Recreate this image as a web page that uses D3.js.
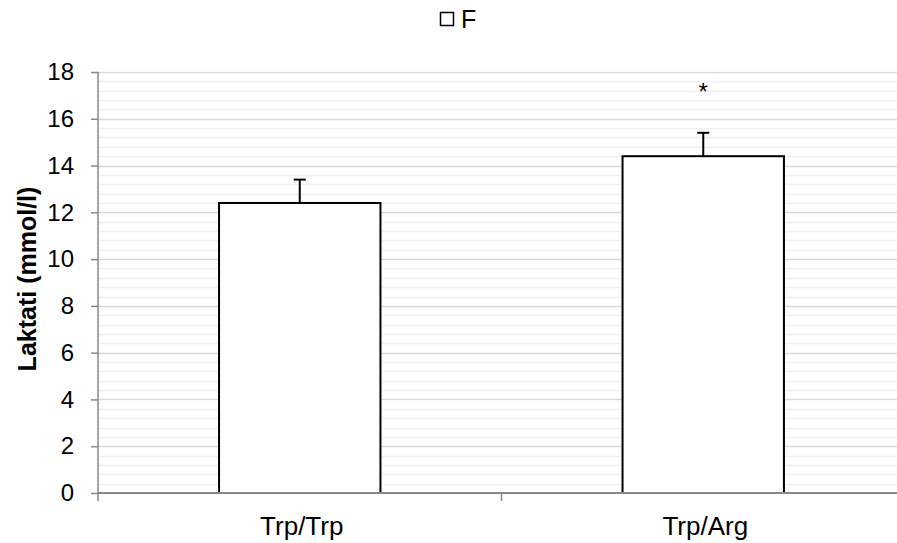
<!DOCTYPE html>
<html><head><meta charset="utf-8">
<script src="https://cdn.jsdelivr.net/npm/d3@7"></script>
<style>body{margin:0;background:#fff}svg{display:block;font-family:"Liberation Sans",Arial,sans-serif}</style>
</head><body><div id="chart"></div>
<script>
const categories = ["Trp/Trp", "Trp/Arg"];
const values = [12.4, 14.4];
const errors = [1.0, 1.0];
const significance = ["", "*"];
const seriesName = "F";
const yTicks = [0, 2, 4, 6, 8, 10, 12, 14, 16, 18];
const yLabel = "Laktati (mmol/l)";

const W = 897, H = 543;
const FS = 24;
const svg = d3.select("#chart").append("svg").attr("width", W).attr("height", H);
const y = d3.scaleLinear().domain([0, 18]).range([493, 72]);
const x = d3.scaleBand().domain(categories).range([98, 905]).paddingInner(0).paddingOuter(0);
const xr = W;

// minor gridlines
const minor = d3.range(0, 18.001, 0.4).filter(v => Math.abs(v/2 - Math.round(v/2)) > 1e-6);
svg.append("g").selectAll("line").data(minor).join("line")
  .attr("x1", 98).attr("x2", xr).attr("y1", d => Math.round(y(d)) + 0.5).attr("y2", d => Math.round(y(d)) + 0.5)
  .attr("stroke", "#efefef").attr("stroke-width", 1.5);
// major gridlines
svg.append("g").selectAll("line").data(yTicks.filter(d => d > 0)).join("line")
  .attr("x1", 98).attr("x2", xr).attr("y1", d => Math.round(y(d)) + 0.5).attr("y2", d => Math.round(y(d)) + 0.5)
  .attr("stroke", "#d9d9d9").attr("stroke-width", 1.5);

// bars
const bw = x.bandwidth() * 0.4;
const cx = d => x(d) + x.bandwidth() / 2;
svg.append("g").selectAll("rect").data(categories).join("rect")
  .attr("x", d => cx(d) - bw/2).attr("width", bw)
  .attr("y", (d, i) => y(values[i])).attr("height", (d, i) => y(0) - y(values[i]))
  .attr("fill", "#fff").attr("stroke", "#000").attr("stroke-width", 2);

// error bars
const eg = svg.append("g").attr("stroke", "#000").attr("stroke-width", 2);
categories.forEach((c, i) => {
  eg.append("line").attr("x1", cx(c)).attr("x2", cx(c)).attr("y1", y(values[i])).attr("y2", y(values[i] + errors[i]));
  eg.append("line").attr("x1", cx(c) - 6).attr("x2", cx(c) + 6).attr("y1", y(values[i] + errors[i])).attr("y2", y(values[i] + errors[i]));
});
// significance
svg.append("g").selectAll("text").data(categories).join("text")
  .attr("x", d => cx(d)).attr("y", 100).attr("text-anchor", "middle")
  .attr("font-size", FS).text((d, i) => significance[i]);

// y axis
const yAxis = svg.append("g").attr("transform", "translate(98,0)")
  .call(d3.axisLeft(y).tickValues(yTicks).tickSize(7).tickPadding(17).tickFormat(d3.format("d")));
yAxis.attr("font-size", FS).attr("font-family", "Liberation Sans, Arial, sans-serif");
yAxis.select(".domain").attr("stroke", "#898989").attr("stroke-width", 1.5).attr("d", "M0,72V501");
yAxis.selectAll(".tick line").attr("stroke", "#898989").attr("stroke-width", 1.5);
yAxis.selectAll(".tick text").attr("fill", "#000");

// x axis
const xAxis = svg.append("g").attr("transform", "translate(0,493)");
xAxis.append("line").attr("x1", 98).attr("x2", xr).attr("stroke", "#898989").attr("stroke-width", 2);
xAxis.selectAll(".xt").data(categories.slice(1)).join("line")
  .attr("x1", d => x(d)).attr("x2", d => x(d)).attr("y1", 0).attr("y2", 8)
  .attr("stroke", "#898989").attr("stroke-width", 1.5);
xAxis.selectAll("text").data(categories).join("text")
  .attr("x", d => cx(d) + 2).attr("y", 42).attr("text-anchor", "middle")
  .attr("font-size", 26).attr("fill", "#000").text(d => d);

// y label
svg.append("text").attr("transform", "translate(36,279) rotate(-90)")
  .attr("text-anchor", "middle").attr("font-size", 25).attr("font-weight", "bold").text(yLabel);

// legend
svg.append("rect").attr("x", 440.5).attr("y", 12.5).attr("width", 13).attr("height", 13)
  .attr("fill", "#fff").attr("stroke", "#000").attr("stroke-width", 1.5);
svg.append("text").attr("x", 461).attr("y", 28).attr("font-size", 25).text(seriesName);
</script></body></html>
